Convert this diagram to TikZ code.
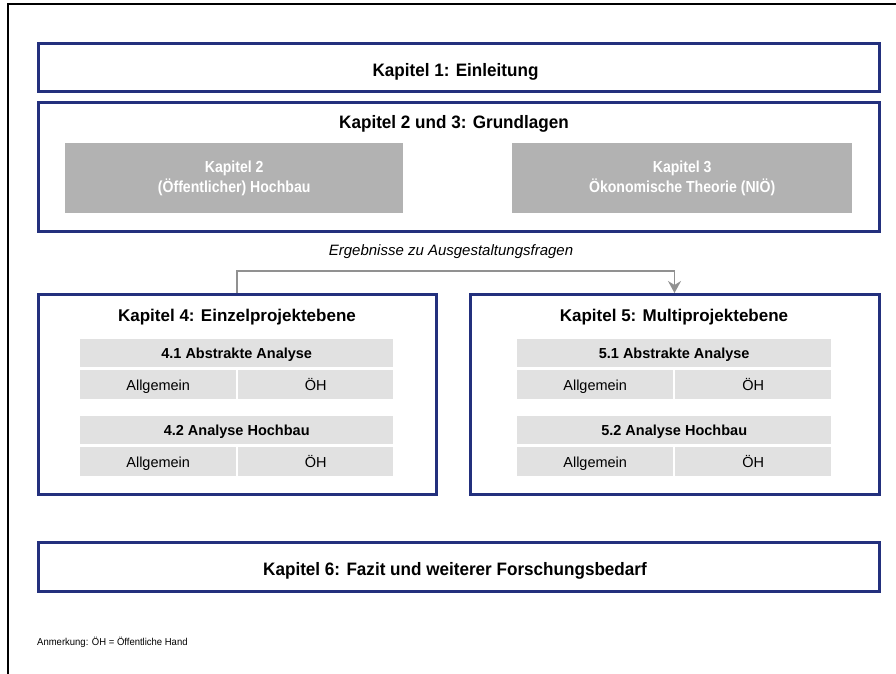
\documentclass[tikz,border=0pt]{standalone}
\usepackage{fontspec}
\setmainfont{Liberation Sans}
\newfontfamily\slimsans[FakeStretch=0.95]{Liberation Sans}
\newfontfamily\narrowsans[FakeStretch=0.88]{Liberation Sans}
\usetikzlibrary{arrows.meta}

\definecolor{navy}{RGB}{35,48,125}
\definecolor{cellgray}{RGB}{225,225,225}
\definecolor{boxgray}{RGB}{178,178,178}
\definecolor{linkgray}{RGB}{145,145,145}

\tikzset{
  chapter/.style={draw=navy, line width=3pt, fill=white, inner sep=0pt, anchor=north west},
  widetitle/.style={font=\slimsans\fontsize{18}{21}\selectfont\bfseries, inner sep=0pt, anchor=base},
  chaptitle/.style={font=\fontsize{17}{20}\selectfont\bfseries, inner sep=0pt, anchor=base},
  greybox/.style={fill=boxgray, inner sep=0pt, anchor=north west, align=center,
    text=white, font=\narrowsans\fontsize{16}{19.5}\selectfont\bfseries},
  cellhead/.style={fill=cellgray, inner sep=0pt, anchor=north west,
    text height=13pt, text depth=2pt, font=\fontsize{14.5}{17}\selectfont\bfseries},
  cell/.style={fill=cellgray, inner sep=0pt, anchor=north west,
    text height=13pt, text depth=2pt, font=\fontsize{14.5}{17}\selectfont},
  link/.style={draw=linkgray, line width=1.5pt,
    -{Stealth[width=13pt, length=12pt, inset=4pt]}},
}

\begin{document}
\begin{tikzpicture}[x=1pt, y=-1pt]
\useasboundingbox (0,0) rectangle (896,674);

% page frame
\draw[black, line width=2.2pt] (7.7,674) -- (7.7,4.3) -- (896,4.3);

% chapter 1
\node[chapter, minimum width=841pt, minimum height=48pt] (k1) at (37,42) {};
\node[widetitle] (k1t) at (455.5,76.5) {Kapitel 1: Einleitung};

% chapters 2 and 3
\node[chapter, minimum width=841pt, minimum height=129pt] (k23) at (37,101) {};
\node[widetitle] (k23t) at (454,128.5) {Kapitel 2 und 3: Grundlagen};
\node[greybox, minimum width=338pt, minimum height=70pt] (k2) at (65,143)
  {Kapitel 2\\(Öffentlicher) Hochbau};
\node[greybox, minimum width=340pt, minimum height=70pt] (k3) at (512,143)
  {Kapitel 3\\Ökonomische Theorie (NIÖ)};

% results label
\node[font=\fontsize{15}{17}\selectfont\itshape, inner sep=0pt, anchor=base] (res) at (451,255.5)
  {Ergebnisse zu Ausgestaltungsfragen};

% chapter 4
\node[chapter, minimum width=398pt, minimum height=200pt] (k4) at (37,293) {};
\node[chaptitle] (k4t) at (237,321) {Kapitel 4: Einzelprojektebene};
\node[cellhead, minimum width=313pt, minimum height=28pt] (k41) at (80,339) {4.1 Abstrakte Analyse};
\node[cell, minimum width=156pt, minimum height=29pt] (k41a) at (80,370) {Allgemein};
\node[cell, minimum width=155pt, minimum height=29pt] (k41b) at (238,370) {ÖH};
\node[cellhead, minimum width=313pt, minimum height=28pt] (k42) at (80,416) {4.2 Analyse Hochbau};
\node[cell, minimum width=156pt, minimum height=29pt] (k42a) at (80,447) {Allgemein};
\node[cell, minimum width=155pt, minimum height=29pt] (k42b) at (238,447) {ÖH};

% chapter 5
\node[chapter, minimum width=409pt, minimum height=200pt] (k5) at (469,293) {};
\node[chaptitle] (k5t) at (674,321) {Kapitel 5: Multiprojektebene};
\node[cellhead, minimum width=314pt, minimum height=28pt] (k51) at (517,339) {5.1 Abstrakte Analyse};
\node[cell, minimum width=156pt, minimum height=29pt] (k51a) at (517,370) {Allgemein};
\node[cell, minimum width=156pt, minimum height=29pt] (k51b) at (675,370) {ÖH};
\node[cellhead, minimum width=314pt, minimum height=28pt] (k52) at (517,416) {5.2 Analyse Hochbau};
\node[cell, minimum width=156pt, minimum height=29pt] (k52a) at (517,447) {Allgemein};
\node[cell, minimum width=156pt, minimum height=29pt] (k52b) at (675,447) {ÖH};

% link from chapter 4 to chapter 5
\coordinate (bendA) at (237,271);
\coordinate (bendB) at (674.5,271);
\draw[link] (k4.north -| bendA) -- (bendA) -- (bendB) -- (k5.north -| bendB);

% chapter 6
\node[chapter, minimum width=841pt, minimum height=49pt] (k6) at (37,541) {};
\node[widetitle] (k6t) at (455,575.5) {Kapitel 6: Fazit und weiterer Forschungsbedarf};

% footnote
\node[anchor=west, inner sep=0pt, font=\slimsans\fontsize{10}{12}\selectfont] (note) at (37,642)
  {Anmerkung: ÖH = Öffentliche Hand};
\end{tikzpicture}
\end{document}
